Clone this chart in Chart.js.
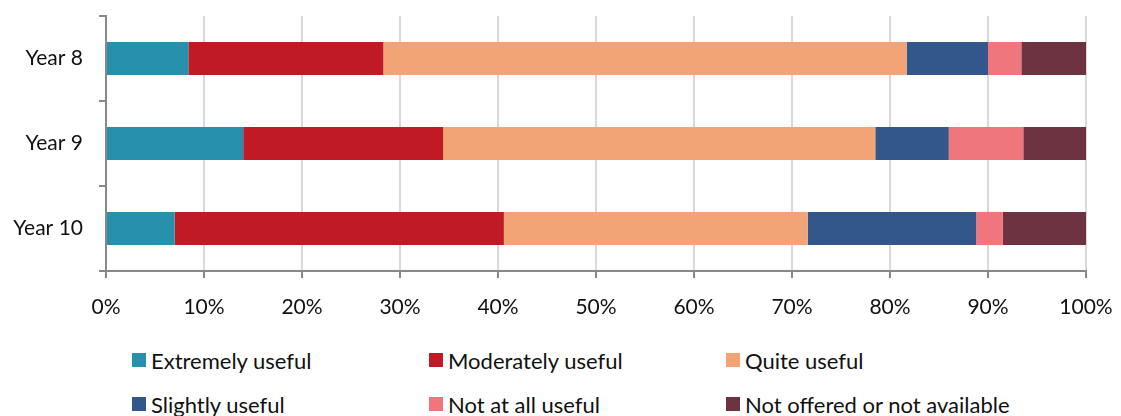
<!DOCTYPE html>
<html>
<head>
<meta charset="utf-8">
<script src="https://cdn.jsdelivr.net/npm/chart.js"></script>
<style>
 body{margin:0;background:#fff;font-family:Lato,sans-serif}
 #wrap{position:relative;width:1121px;height:416px}
 #legend{position:absolute;left:132px;top:347px;width:900px;display:grid;grid-template-columns:297px 297px 297px;row-gap:18px;font-size:22px;color:#111}
 #legend div{display:flex;align-items:center;height:26px}
 #legend span{display:inline-block;width:14px;height:14px;margin-right:5px}
</style>
</head>
<body>
<div id="wrap">
 <canvas id="chart" width="1121" height="320"></canvas>
 <div id="legend"></div>
</div>
<script>
let years=["Year 8","Year 9","Year 10"];
let names=["Extremely useful","Moderately useful","Quite useful","Slightly useful","Not at all useful","Not offered or not available"];
let colors=["#2790ac","#c01b24","#f3a477","#33578a","#ee767c","#6e3340"];
let extremely=[8.4,14.0,7.0];
let moderately=[19.9,20.4,33.6];
let quite=[53.4,44.1,31.0];
let slightly=[8.3,7.5,17.2];
let notAtAll=[3.4,7.6,2.7];
let notOffered=[6.6,6.4,8.5];
let xTicks=[0,10,20,30,40,50,60,70,80,90,100];

let series=[extremely,moderately,quite,slightly,notAtAll,notOffered];
let datasets=series.map((d,i)=>({label:names[i],data:d,backgroundColor:colors[i],borderWidth:0,barPercentage:0.39,categoryPercentage:1}));

let lg=document.getElementById("legend");
names.forEach((n,i)=>{
 let el=document.createElement("div");
 el.innerHTML='<span style="background:'+colors[i]+'"></span>'+n;
 lg.appendChild(el);
});

let font={family:"Lato",size:21};
new Chart(document.getElementById("chart"),{
 type:"bar",
 data:{labels:years,datasets},
 options:{
  indexAxis:"y",responsive:false,animation:false,
  layout:{padding:{top:16,right:35,left:0,bottom:0}},
  plugins:{legend:{display:false},tooltip:{enabled:false}},
  scales:{
   x:{stacked:true,min:0,max:100,
    afterBuildTicks:s=>{s.ticks=xTicks.map(v=>({value:v}))},
    afterFit:s=>{s.height=49;s.paddingLeft=0;s.paddingRight=0},
    grid:{color:"#d9d9d9",lineWidth:2,tickColor:"#888",tickLength:7},
    border:{color:"#888",width:2},
    ticks:{font,color:"#111",padding:17,callback:v=>v+"%"}},
   y:{stacked:true,
    afterFit:s=>{s.width=106;s.paddingTop=0;s.paddingBottom=0},
    grid:{drawOnChartArea:false,offset:true,tickColor:"#888",tickLength:7,lineWidth:2},
    border:{color:"#888",width:2},
    ticks:{font,color:"#111",padding:16}}
  }
 }
});
</script>
</body>
</html>
